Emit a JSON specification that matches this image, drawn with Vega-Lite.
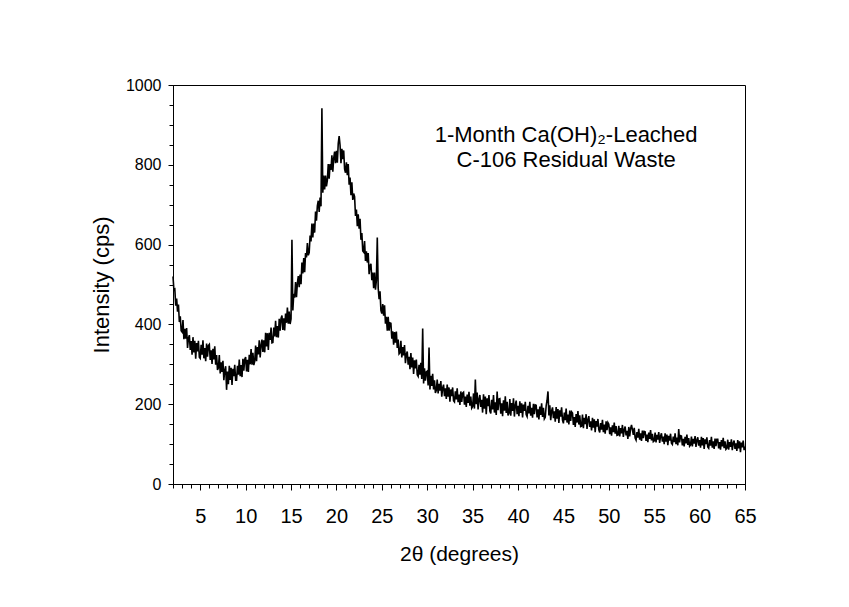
{
"$schema":"https://vega.github.io/schema/vega-lite/v6.json",
"width":572,"height":399,
"autosize":{"type":"none"},
"padding":{"left":173,"top":85,"right":104,"bottom":123},
"background":"white",
"config":{"font":"Liberation Sans","view":{"stroke":"black","strokeWidth":1},
"axis":{"grid":false,"domainColor":"black","tickColor":"black","labelColor":"black","titleColor":"black","titleFontWeight":"normal","domainWidth":1,"tickWidth":1,"labelFont":"Liberation Sans","titleFont":"Liberation Sans"}},
"datasets":{
"notes":[{"label":"1-Month Ca(OH)₂-Leached","x":45.3,"y":857},{"label":"C-106 Residual Waste","x":45.3,"y":794}],
"xrd":[
{"x":2.0,"y":520},{"x":2.1,"y":486},{"x":2.2,"y":488},{"x":2.3,"y":447},{"x":2.4,"y":465},{"x":2.5,"y":432},{"x":2.6,"y":450},{"x":2.7,"y":406},{"x":2.8,"y":420},{"x":2.9,"y":384},
{"x":3.0,"y":381},{"x":3.1,"y":411},{"x":3.2,"y":363},{"x":3.3,"y":389},{"x":3.4,"y":364},{"x":3.5,"y":391},{"x":3.6,"y":341},{"x":3.7,"y":365},{"x":3.8,"y":373},{"x":3.9,"y":336},
{"x":4.0,"y":358},{"x":4.1,"y":324},{"x":4.2,"y":368},{"x":4.3,"y":330},{"x":4.4,"y":359},{"x":4.5,"y":314},{"x":4.6,"y":353},{"x":4.7,"y":332},{"x":4.8,"y":359},{"x":4.9,"y":318},
{"x":5.0,"y":315},{"x":5.1,"y":349},{"x":5.2,"y":324},{"x":5.3,"y":360},{"x":5.4,"y":315},{"x":5.5,"y":341},{"x":5.6,"y":308},{"x":5.7,"y":352},{"x":5.8,"y":319},{"x":5.9,"y":347},
{"x":6.0,"y":350},{"x":6.1,"y":311},{"x":6.2,"y":335},{"x":6.3,"y":301},{"x":6.4,"y":339},{"x":6.5,"y":312},{"x":6.6,"y":345},{"x":6.7,"y":299},{"x":6.8,"y":323},{"x":6.9,"y":286},
{"x":7.0,"y":291},{"x":7.1,"y":323},{"x":7.2,"y":277},{"x":7.3,"y":305},{"x":7.4,"y":281},{"x":7.5,"y":309},{"x":7.6,"y":260},{"x":7.7,"y":285},{"x":7.8,"y":295},{"x":7.9,"y":236},
{"x":8.0,"y":282},{"x":8.1,"y":250},{"x":8.2,"y":296},{"x":8.3,"y":261},{"x":8.4,"y":291},{"x":8.5,"y":248},{"x":8.6,"y":289},{"x":8.7,"y":270},{"x":8.8,"y":299},{"x":8.9,"y":260},
{"x":9.0,"y":260},{"x":9.1,"y":296},{"x":9.2,"y":274},{"x":9.3,"y":312},{"x":9.4,"y":270},{"x":9.5,"y":298},{"x":9.6,"y":268},{"x":9.7,"y":314},{"x":9.8,"y":284},{"x":9.9,"y":313},
{"x":10.0,"y":318},{"x":10.1,"y":282},{"x":10.2,"y":311},{"x":10.3,"y":281},{"x":10.4,"y":324},{"x":10.5,"y":300},{"x":10.6,"y":338},{"x":10.7,"y":299},{"x":10.8,"y":329},{"x":10.9,"y":298},
{"x":11.0,"y":308},{"x":11.1,"y":347},{"x":11.2,"y":308},{"x":11.3,"y":343},{"x":11.4,"y":325},{"x":11.5,"y":360},{"x":11.6,"y":317},{"x":11.7,"y":348},{"x":11.8,"y":362},{"x":11.9,"y":331},
{"x":12.0,"y":360},{"x":12.1,"y":330},{"x":12.2,"y":379},{"x":12.3,"y":345},{"x":12.4,"y":378},{"x":12.5,"y":336},{"x":12.6,"y":379},{"x":12.7,"y":361},{"x":12.8,"y":392},{"x":12.9,"y":354},
{"x":13.0,"y":355},{"x":13.1,"y":392},{"x":13.2,"y":370},{"x":13.3,"y":409},{"x":13.4,"y":368},{"x":13.5,"y":396},{"x":13.6,"y":367},{"x":13.7,"y":414},{"x":13.8,"y":384},{"x":13.9,"y":415},
{"x":14.0,"y":422},{"x":14.1,"y":386},{"x":14.2,"y":415},{"x":14.3,"y":385},{"x":14.4,"y":427},{"x":14.5,"y":404},{"x":14.6,"y":442},{"x":14.7,"y":402},{"x":14.8,"y":432},{"x":14.9,"y":401},
{"x":15.0,"y":414},{"x":15.1,"y":612},{"x":15.2,"y":435},{"x":15.3,"y":477},{"x":15.4,"y":467},{"x":15.5,"y":506},{"x":15.6,"y":468},{"x":15.7,"y":503},{"x":15.8,"y":521},{"x":15.9,"y":493},
{"x":16.0,"y":525},{"x":16.1,"y":501},{"x":16.2,"y":555},{"x":16.3,"y":528},{"x":16.4,"y":566},{"x":16.5,"y":531},{"x":16.6,"y":579},{"x":16.7,"y":568},{"x":16.8,"y":604},{"x":16.9,"y":573},
{"x":17.0,"y":580},{"x":17.1,"y":623},{"x":17.2,"y":608},{"x":17.3,"y":653},{"x":17.4,"y":618},{"x":17.5,"y":653},{"x":17.6,"y":630},{"x":17.7,"y":683},{"x":17.8,"y":660},{"x":17.9,"y":697},
{"x":18.0,"y":710},{"x":18.1,"y":682},{"x":18.2,"y":718},{"x":18.3,"y":696},{"x":18.4,"y":942},{"x":18.5,"y":730},{"x":18.6,"y":773},{"x":18.7,"y":738},{"x":18.8,"y":773},{"x":18.9,"y":746},
{"x":19.0,"y":761},{"x":19.1,"y":802},{"x":19.2,"y":765},{"x":19.3,"y":802},{"x":19.4,"y":787},{"x":19.5,"y":824},{"x":19.6,"y":783},{"x":19.7,"y":816},{"x":19.8,"y":833},{"x":19.9,"y":804},
{"x":20.0,"y":835},{"x":20.1,"y":805},{"x":20.2,"y":853},{"x":20.3,"y":872},{"x":20.4,"y":849},{"x":20.5,"y":804},{"x":20.6,"y":840},{"x":20.7,"y":814},{"x":20.8,"y":836},{"x":20.9,"y":789},
{"x":21.0,"y":780},{"x":21.1,"y":806},{"x":21.2,"y":774},{"x":21.3,"y":802},{"x":21.4,"y":750},{"x":21.5,"y":768},{"x":21.6,"y":724},{"x":21.7,"y":756},{"x":21.8,"y":712},{"x":21.9,"y":728},
{"x":22.0,"y":720},{"x":22.1,"y":672},{"x":22.2,"y":688},{"x":22.3,"y":646},{"x":22.4,"y":676},{"x":22.5,"y":640},{"x":22.6,"y":665},{"x":22.7,"y":612},{"x":22.8,"y":629},{"x":22.9,"y":584},
{"x":23.0,"y":581},{"x":23.1,"y":609},{"x":23.2,"y":559},{"x":23.3,"y":583},{"x":23.4,"y":555},{"x":23.5,"y":579},{"x":23.6,"y":526},{"x":23.7,"y":547},{"x":23.8,"y":552},{"x":23.9,"y":511},
{"x":24.0,"y":530},{"x":24.1,"y":491},{"x":24.2,"y":530},{"x":24.3,"y":487},{"x":24.4,"y":510},{"x":24.5,"y":618},{"x":24.6,"y":491},{"x":24.7,"y":463},{"x":24.8,"y":483},{"x":24.9,"y":435},
{"x":25.0,"y":427},{"x":25.1,"y":451},{"x":25.2,"y":422},{"x":25.3,"y":448},{"x":25.4,"y":402},{"x":25.5,"y":419},{"x":25.6,"y":384},{"x":25.7,"y":419},{"x":25.8,"y":384},{"x":25.9,"y":404},
{"x":26.0,"y":403},{"x":26.1,"y":364},{"x":26.2,"y":383},{"x":26.3,"y":349},{"x":26.4,"y":381},{"x":26.5,"y":354},{"x":26.6,"y":382},{"x":26.7,"y":341},{"x":26.8,"y":362},{"x":26.9,"y":326},
{"x":27.0,"y":329},{"x":27.1,"y":359},{"x":27.2,"y":317},{"x":27.3,"y":343},{"x":27.4,"y":322},{"x":27.5,"y":348},{"x":27.6,"y":303},{"x":27.7,"y":325},{"x":27.8,"y":332},{"x":27.9,"y":299},
{"x":28.0,"y":319},{"x":28.1,"y":288},{"x":28.2,"y":328},{"x":28.3,"y":292},{"x":28.4,"y":317},{"x":28.5,"y":276},{"x":28.6,"y":310},{"x":28.7,"y":290},{"x":28.8,"y":312},{"x":28.9,"y":274},
{"x":29.0,"y":270},{"x":29.1,"y":299},{"x":29.2,"y":274},{"x":29.3,"y":304},{"x":29.4,"y":263},{"x":29.5,"y":390},{"x":29.6,"y":252},{"x":29.7,"y":290},{"x":29.8,"y":259},{"x":29.9,"y":281},
{"x":30.0,"y":283},{"x":30.1,"y":247},{"x":30.2,"y":342},{"x":30.3,"y":237},{"x":30.4,"y":271},{"x":30.5,"y":246},{"x":30.6,"y":276},{"x":30.7,"y":237},{"x":30.8,"y":260},{"x":30.9,"y":228},
{"x":31.0,"y":235},{"x":31.1,"y":262},{"x":31.2,"y":227},{"x":31.3,"y":251},{"x":31.4,"y":234},{"x":31.5,"y":258},{"x":31.6,"y":219},{"x":31.7,"y":241},{"x":31.8,"y":249},{"x":31.9,"y":220},
{"x":32.0,"y":240},{"x":32.1,"y":213},{"x":32.2,"y":249},{"x":32.3,"y":219},{"x":32.4,"y":242},{"x":32.5,"y":206},{"x":32.6,"y":237},{"x":32.7,"y":220},{"x":32.8,"y":242},{"x":32.9,"y":209},
{"x":33.0,"y":206},{"x":33.1,"y":232},{"x":33.2,"y":212},{"x":33.3,"y":240},{"x":33.4,"y":205},{"x":33.5,"y":224},{"x":33.6,"y":198},{"x":33.7,"y":232},{"x":33.8,"y":206},{"x":33.9,"y":228},
{"x":34.0,"y":230},{"x":34.1,"y":199},{"x":34.2,"y":219},{"x":34.3,"y":193},{"x":34.4,"y":224},{"x":34.5,"y":203},{"x":34.6,"y":231},{"x":34.7,"y":196},{"x":34.8,"y":219},{"x":34.9,"y":190},
{"x":35.0,"y":194},{"x":35.1,"y":227},{"x":35.2,"y":189},{"x":35.3,"y":262},{"x":35.4,"y":200},{"x":35.5,"y":229},{"x":35.6,"y":187},{"x":35.7,"y":212},{"x":35.8,"y":223},{"x":35.9,"y":193},
{"x":36.0,"y":211},{"x":36.1,"y":179},{"x":36.2,"y":225},{"x":36.3,"y":189},{"x":36.4,"y":219},{"x":36.5,"y":175},{"x":36.6,"y":215},{"x":36.7,"y":195},{"x":36.8,"y":223},{"x":36.9,"y":183},
{"x":37.0,"y":177},{"x":37.1,"y":211},{"x":37.2,"y":187},{"x":37.3,"y":223},{"x":37.4,"y":179},{"x":37.5,"y":205},{"x":37.6,"y":173},{"x":37.7,"y":232},{"x":37.8,"y":185},{"x":37.9,"y":213},
{"x":38.0,"y":214},{"x":38.1,"y":176},{"x":38.2,"y":202},{"x":38.3,"y":170},{"x":38.4,"y":210},{"x":38.5,"y":184},{"x":38.6,"y":220},{"x":38.7,"y":178},{"x":38.8,"y":206},{"x":38.9,"y":172},
{"x":39.0,"y":177},{"x":39.1,"y":213},{"x":39.2,"y":171},{"x":39.3,"y":203},{"x":39.4,"y":183},{"x":39.5,"y":215},{"x":39.6,"y":169},{"x":39.7,"y":197},{"x":39.8,"y":209},{"x":39.9,"y":175},
{"x":40.0,"y":196},{"x":40.1,"y":170},{"x":40.2,"y":207},{"x":40.3,"y":178},{"x":40.4,"y":202},{"x":40.5,"y":167},{"x":40.6,"y":199},{"x":40.7,"y":183},{"x":40.8,"y":206},{"x":40.9,"y":174},
{"x":41.0,"y":169},{"x":41.1,"y":196},{"x":41.2,"y":177},{"x":41.3,"y":206},{"x":41.4,"y":171},{"x":41.5,"y":191},{"x":41.6,"y":166},{"x":41.7,"y":201},{"x":41.8,"y":175},{"x":41.9,"y":198},
{"x":42.0,"y":197},{"x":42.1,"y":167},{"x":42.2,"y":187},{"x":42.3,"y":162},{"x":42.4,"y":194},{"x":42.5,"y":173},{"x":42.6,"y":202},{"x":42.7,"y":168},{"x":42.8,"y":191},{"x":42.9,"y":163},
{"x":43.0,"y":167},{"x":43.1,"y":196},{"x":43.2,"y":210},{"x":43.3,"y":232},{"x":43.4,"y":172},{"x":43.5,"y":197},{"x":43.6,"y":160},{"x":43.7,"y":183},{"x":43.8,"y":192},{"x":43.9,"y":165},
{"x":44.0,"y":182},{"x":44.1,"y":156},{"x":44.2,"y":193},{"x":44.3,"y":164},{"x":44.4,"y":188},{"x":44.5,"y":153},{"x":44.6,"y":185},{"x":44.7,"y":169},{"x":44.8,"y":192},{"x":44.9,"y":160},
{"x":45.0,"y":152},{"x":45.1,"y":179},{"x":45.2,"y":160},{"x":45.3,"y":189},{"x":45.4,"y":154},{"x":45.5,"y":174},{"x":45.6,"y":149},{"x":45.7,"y":184},{"x":45.8,"y":158},{"x":45.9,"y":181},
{"x":46.0,"y":178},{"x":46.1,"y":148},{"x":46.2,"y":168},{"x":46.3,"y":143},{"x":46.4,"y":175},{"x":46.5,"y":154},{"x":46.6,"y":183},{"x":46.7,"y":149},{"x":46.8,"y":172},{"x":46.9,"y":144},
{"x":47.0,"y":145},{"x":47.1,"y":174},{"x":47.2,"y":140},{"x":47.3,"y":166},{"x":47.4,"y":150},{"x":47.5,"y":175},{"x":47.6,"y":138},{"x":47.7,"y":161},{"x":47.8,"y":170},{"x":47.9,"y":143},
{"x":48.0,"y":157},{"x":48.1,"y":134},{"x":48.2,"y":166},{"x":48.3,"y":141},{"x":48.4,"y":162},{"x":48.5,"y":130},{"x":48.6,"y":158},{"x":48.7,"y":144},{"x":48.8,"y":163},{"x":48.9,"y":136},
{"x":49.0,"y":129},{"x":49.1,"y":153},{"x":49.2,"y":136},{"x":49.3,"y":161},{"x":49.4,"y":130},{"x":49.5,"y":149},{"x":49.6,"y":126},{"x":49.7,"y":157},{"x":49.8,"y":135},{"x":49.9,"y":154},
{"x":50.0,"y":150},{"x":50.1,"y":125},{"x":50.2,"y":142},{"x":50.3,"y":121},{"x":50.4,"y":147},{"x":50.5,"y":130},{"x":50.6,"y":154},{"x":50.7,"y":126},{"x":50.8,"y":145},{"x":50.9,"y":122},
{"x":51.0,"y":123},{"x":51.1,"y":146},{"x":51.2,"y":119},{"x":51.3,"y":140},{"x":51.4,"y":127},{"x":51.5,"y":148},{"x":51.6,"y":118},{"x":51.7,"y":136},{"x":51.8,"y":144},{"x":51.9,"y":122},
{"x":52.0,"y":133},{"x":52.1,"y":113},{"x":52.2,"y":143},{"x":52.3,"y":119},{"x":52.4,"y":139},{"x":52.5,"y":148},{"x":52.6,"y":136},{"x":52.7,"y":123},{"x":52.8,"y":141},{"x":52.9,"y":115},
{"x":53.0,"y":110},{"x":53.1,"y":130},{"x":53.2,"y":116},{"x":53.3,"y":138},{"x":53.4,"y":111},{"x":53.5,"y":127},{"x":53.6,"y":108},{"x":53.7,"y":134},{"x":53.8,"y":115},{"x":53.9,"y":132},
{"x":54.0,"y":131},{"x":54.1,"y":108},{"x":54.2,"y":124},{"x":54.3,"y":105},{"x":54.4,"y":129},{"x":54.5,"y":113},{"x":54.6,"y":135},{"x":54.7,"y":109},{"x":54.8,"y":126},{"x":54.9,"y":106},
{"x":55.0,"y":108},{"x":55.1,"y":129},{"x":55.2,"y":104},{"x":55.3,"y":123},{"x":55.4,"y":111},{"x":55.5,"y":130},{"x":55.6,"y":103},{"x":55.7,"y":120},{"x":55.8,"y":127},{"x":55.9,"y":106},
{"x":56.0,"y":119},{"x":56.1,"y":100},{"x":56.2,"y":127},{"x":56.3,"y":106},{"x":56.4,"y":124},{"x":56.5,"y":97},{"x":56.6,"y":121},{"x":56.7,"y":109},{"x":56.8,"y":126},{"x":56.9,"y":102},
{"x":57.0,"y":99},{"x":57.1,"y":119},{"x":57.2,"y":105},{"x":57.3,"y":127},{"x":57.4,"y":100},{"x":57.5,"y":116},{"x":57.6,"y":97},{"x":57.7,"y":138},{"x":57.8,"y":104},{"x":57.9,"y":121},
{"x":58.0,"y":120},{"x":58.1,"y":97},{"x":58.2,"y":113},{"x":58.3,"y":94},{"x":58.4,"y":118},{"x":58.5,"y":102},{"x":58.6,"y":124},{"x":58.7,"y":98},{"x":58.8,"y":115},{"x":58.9,"y":95},
{"x":59.0,"y":98},{"x":59.1,"y":119},{"x":59.2,"y":94},{"x":59.3,"y":113},{"x":59.4,"y":101},{"x":59.5,"y":120},{"x":59.6,"y":93},{"x":59.7,"y":110},{"x":59.8,"y":117},{"x":59.9,"y":96},
{"x":60.0,"y":110},{"x":60.1,"y":91},{"x":60.2,"y":118},{"x":60.3,"y":97},{"x":60.4,"y":115},{"x":60.5,"y":88},{"x":60.6,"y":112},{"x":60.7,"y":100},{"x":60.8,"y":117},{"x":60.9,"y":93},
{"x":61.0,"y":90},{"x":61.1,"y":110},{"x":61.2,"y":96},{"x":61.3,"y":118},{"x":61.4,"y":91},{"x":61.5,"y":107},{"x":61.6,"y":88},{"x":61.7,"y":114},{"x":61.8,"y":95},{"x":61.9,"y":112},
{"x":62.0,"y":112},{"x":62.1,"y":89},{"x":62.2,"y":105},{"x":62.3,"y":86},{"x":62.4,"y":110},{"x":62.5,"y":94},{"x":62.6,"y":116},{"x":62.7,"y":90},{"x":62.8,"y":107},{"x":62.9,"y":87},
{"x":63.0,"y":90},{"x":63.1,"y":111},{"x":63.2,"y":86},{"x":63.3,"y":105},{"x":63.4,"y":93},{"x":63.5,"y":112},{"x":63.6,"y":85},{"x":63.7,"y":102},{"x":63.8,"y":109},{"x":63.9,"y":88},
{"x":64.0,"y":102},{"x":64.1,"y":83},{"x":64.2,"y":110},{"x":64.3,"y":89},{"x":64.4,"y":107},{"x":64.5,"y":80},{"x":64.6,"y":104},{"x":64.7,"y":92},{"x":64.8,"y":109},{"x":64.9,"y":85},
{"x":65.0,"y":94}
]},
"resolve":{"scale":{"x":"shared","y":"shared"},"axis":{"x":"independent","y":"independent"}},
"layer":[
{"data":{"name":"xrd"},"mark":{"type":"line","color":"black","strokeWidth":1.6},
"encoding":{
"x":{"field":"x","type":"quantitative","scale":{"domain":[2,65],"nice":false,"zero":false},
"axis":{"orient":"bottom","values":[5,10,15,20,25,30,35,40,45,50,55,60,65],"title":"2θ (degrees)","labelFontSize":20,"titleFontSize":21,"tickSize":6,"labelPadding":16,"titlePadding":17,"labelFlush":false}},
"y":{"field":"y","type":"quantitative","scale":{"domain":[0,1000],"nice":false},
"axis":{"orient":"left","values":[0,200,400,600,800,1000],"format":"d","title":"Intensity (cps)","labelFontSize":16,"titleFontSize":22,"tickSize":5,"labelPadding":7,"titlePadding":12}}}},
{"data":{"name":"notes"},"mark":{"type":"text","fontSize":22,"align":"center","baseline":"alphabetic","color":"black"},
"encoding":{
"x":{"field":"x","type":"quantitative","axis":{"orient":"bottom","values":[2,3,4,5,6,7,8,9,10,11,12,13,14,15,16,17,18,19,20,21,22,23,24,25,26,27,28,29,30,31,32,33,34,35,36,37,38,39,40,41,42,43,44,45,46,47,48,49,50,51,52,53,54,55,56,57,58,59,60,61,62,63,64,65],"labels":false,"domain":false,"title":null,"tickSize":4}},
"y":{"field":"y","type":"quantitative","axis":{"orient":"left","values":[0,50,100,150,200,250,300,350,400,450,500,550,600,650,700,750,800,850,900,950,1000],"labels":false,"domain":false,"title":null,"tickSize":4}},
"text":{"field":"label"}}}
]
}
